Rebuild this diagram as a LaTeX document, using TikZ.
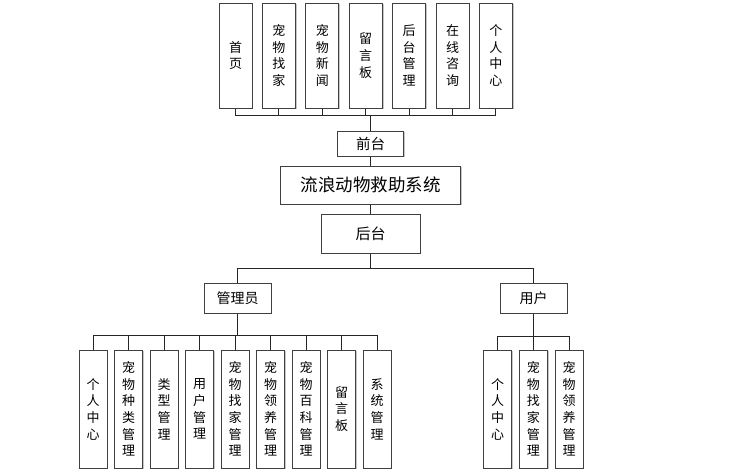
\documentclass[tikz,border=0pt]{standalone}
\usepackage{fontspec}
\setmainfont{Noto Sans CJK SC}
\usetikzlibrary{shadows}

\begin{document}
\begin{tikzpicture}[x=1pt,y=-1pt,
        box/.style = {draw=black!75,line width=1pt,fill=white,inner sep=0pt,align=center,
            drop shadow={shadow xshift=1.3pt,shadow yshift=-1.3pt,fill=black,opacity=.22}},
        tall box/.style = {box,minimum width=33pt,minimum height=105pt,font=\fontsize{13}{16.7}\selectfont},
        leaf box/.style = {box,minimum width=28pt,minimum height=118pt,font=\fontsize{13}{16.7}\selectfont},
        link/.style = {draw=black!85,line width=0.9pt}]
        \fill[white] (0,0) rectangle (745,475);
        \useasboundingbox (0,0) rectangle (745,475);
        % front end pages
        \foreach \t [count=\i] in {{首\\页},{宠\\物\\找\\家},{宠\\物\\新\\闻},{留\\言\\板},{后\\台\\管\\理},{在\\线\\咨\\询},{个\\人\\中\\心}}
            \node[tall box] (t\i) at ({235.5+43.4*(\i-1)},55.5) {\t};
        \node[box,minimum width=66pt,minimum height=25pt,font=\fontsize{14.5}{16}\selectfont] (qt) at (370.5,143.5) {前台};
        \node[box,minimum width=180pt,minimum height=38pt,font=\fontsize{17.5}{20}\selectfont] (sys) at (370.5,185) {流浪动物救助系统};
        \node[box,minimum width=99pt,minimum height=39pt,font=\fontsize{15}{17}\selectfont] (ht) at (370.5,233.5) {后台};
        \node[box,minimum width=67pt,minimum height=30pt,font=\fontsize{14}{16}\selectfont] (admin) at (237.5,298) {管理员};
        \node[box,minimum width=67pt,minimum height=30pt,font=\fontsize{14}{16}\selectfont] (user) at (533.5,298) {用户};
        % admin functions
        \foreach \t [count=\i] in {{个\\人\\中\\心},{宠\\物\\种\\类\\管\\理},{类\\型\\管\\理},{用\\户\\管\\理},{宠\\物\\找\\家\\管\\理},{宠\\物\\领\\养\\管\\理},{宠\\物\\百\\科\\管\\理},{留\\言\\板},{系\\统\\管\\理}}
            \node[leaf box] (a\i) at ({93+35.5*(\i-1)},409) {\t};
        % user functions
        \foreach \t [count=\i] in {{个\\人\\中\\心},{宠\\物\\找\\家\\管\\理},{宠\\物\\领\\养\\管\\理}}
            \node[leaf box] (u\i) at ({497.5+35.75*(\i-1)},409) {\t};
        % connectors
        \coordinate (topbus) at (0,115);
        \coordinate (midbus) at (0,268);
        \coordinate (adminbus) at (0,335);
        \coordinate (userbus) at (0,336);
        \foreach \i in {1,...,7}
            \draw[link] (t\i.south) -- (t\i.south |- topbus) -| (qt.north);
        \draw[link] (qt.south) -- (sys.north);
        \draw[link] (sys.south) -- (ht.north);
        \draw[link] (ht.south) -- (ht.south |- midbus) -| (admin.north);
        \draw[link] (ht.south |- midbus) -| (user.north);
        \foreach \i in {1,...,9}
            \draw[link] (a\i.north) -- (a\i.north |- adminbus) -| (admin.south);
        \foreach \i in {1,...,3}
            \draw[link] (u\i.north) -- (u\i.north |- userbus) -| (user.south);
    \end{tikzpicture}
\end{document}
